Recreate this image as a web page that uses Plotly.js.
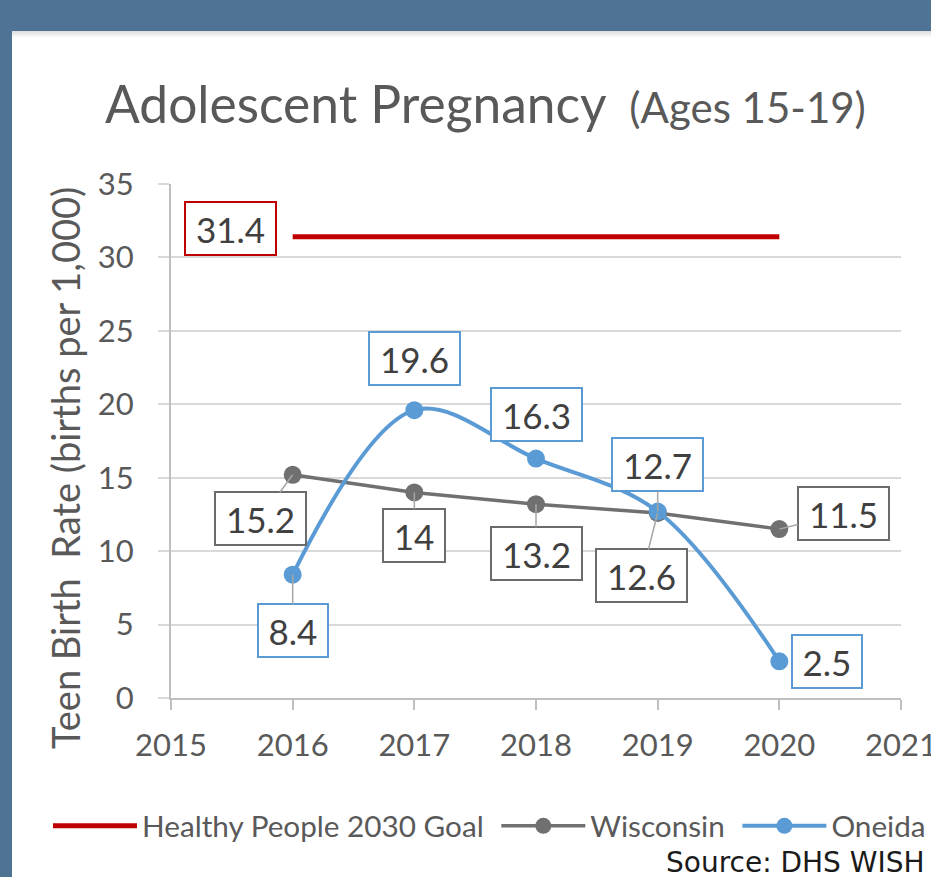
<!DOCTYPE html>
<html><head><meta charset="utf-8">
<script src="https://cdn.plot.ly/plotly-3.0.1.min.js"></script>
<style>
html,body{margin:0;padding:0;width:931px;height:877px;overflow:hidden;background:#4E7394;}
#wrap{position:absolute;left:12px;top:31px;width:919px;height:846px;background:#fff;}
#shade{position:absolute;left:0;top:0;width:919px;height:7px;background:linear-gradient(#dcdcdc,#fff);}
#chart{position:absolute;left:0;top:0;width:919px;height:846px;}
</style></head><body>
<div id="wrap"><div id="shade"></div><div id="chart"></div></div>
<script>
const years = [2016, 2017, 2018, 2019, 2020];
const goalYears = [2016, 2020];
const goalValues = [31.4, 31.4];
const wisconsin = [15.2, 14, 13.2, 12.6, 11.5];
const oneida = [8.4, 19.6, 16.3, 12.7, 2.5];
const xTicks = [2015, 2016, 2017, 2018, 2019, 2020, 2021];
const yTicks = [0, 5, 10, 15, 20, 25, 30, 35];
const seriesNames = ['Healthy People 2030 Goal', 'Wisconsin', 'Oneida'];

const RED = '#C00000', GRAY = '#707070', BLUE = '#5B9BD5';
const FONT = 'Lato';
const LABEL_SIZE = 35;

// label offsets (pixels) and leader-line flags
const wiOff = [[-32, 44], [0, 43], [0, 49], [-16, 63], [64, -16]];
const wiLead = [true, true, true, true, true];
const onOff = [[0, 56], [0, -52], [0, -44], [0, -47], [48, 0]];
const onLead = [true, false, false, true, false];
const goalOff = [-62, -8];

function boxWidth(s) {
  let w = 0;
  for (const ch of s) w += (ch === '.') ? 0.25 * LABEL_SIZE : 0.58 * LABEL_SIZE;
  return Math.round(w + 19);
}

function lab(x, y, v, off, color, lead) {
  const s = String(v);
  return {
    x: x, y: y, xref: 'x', yref: 'y', text: s,
    showarrow: true, ax: off[0], ay: off[1], axref: 'pixel', ayref: 'pixel',
    arrowhead: 0, arrowwidth: 1.5, standoff: 0,
    arrowcolor: lead ? '#a6a6a6' : 'rgba(0,0,0,0)',
    font: {family: FONT, size: LABEL_SIZE, color: '#404040'},
    width: boxWidth(s), height: 51, align: 'center', valign: 'middle',
    bordercolor: color, borderwidth: 2, borderpad: 0, bgcolor: '#ffffff'
  };
}

const annotations = [];
annotations.push(lab(goalYears[0], goalValues[0], goalValues[0], goalOff, RED, false));
years.forEach((yr, i) => annotations.push(lab(yr, wisconsin[i], wisconsin[i], wiOff[i], '#6b6b6b', wiLead[i])));
years.forEach((yr, i) => annotations.push(lab(yr, oneida[i], oneida[i], onOff[i], BLUE, onLead[i])));
annotations.push({
  xref: 'paper', yref: 'paper', x: (53 - 159) / 730, y: 1 - (437 - 153) / 514,
  xanchor: 'center', yanchor: 'middle', textangle: -90,
  text: 'Teen Birth  Rate (births per 1,000)', showarrow: false,
  font: {family: FONT, size: 38, color: '#595959'}
});
annotations.push({
  xref: 'paper', yref: 'paper', x: (915 - 159) / 730, y: -(831 - 667) / 514,
  xanchor: 'right', yanchor: 'middle',
  text: 'Source: DHS WISH', showarrow: false,
  font: {family: 'DejaVu Sans', size: 28, color: '#1a1a1a'}
});

// trailing non-breaking space widens the gap between legend entries
const legendGap = '\u00a0';
const traces = [
  {x: goalYears, y: goalValues, name: seriesNames[0] + legendGap, mode: 'lines',
   line: {color: RED, width: 5}, hoverinfo: 'skip'},
  {x: years, y: wisconsin, name: seriesNames[1] + legendGap, mode: 'lines+markers',
   line: {color: GRAY, width: 3.5}, marker: {color: GRAY, size: 18}},
  {x: years, y: oneida, name: seriesNames[2], mode: 'lines+markers',
   line: {color: BLUE, width: 4, shape: 'spline', smoothing: 1}, marker: {color: BLUE, size: 18}}
];

const layout = {
  width: 919, height: 846,
  paper_bgcolor: 'rgba(0,0,0,0)', plot_bgcolor: 'rgba(0,0,0,0)',
  margin: {l: 159, r: 30, t: 153, b: 179},
  font: {family: FONT, color: '#595959'},
  title: {
    text: 'Adolescent Pregnancy <span style="font-size:42px">&nbsp;(Ages 15-19)</span>',
    font: {family: FONT, size: 51.5, color: '#595959'},
    xref: 'container', yref: 'container', x: 93 / 919, xanchor: 'left',
    y: 1 - 74 / 846, yanchor: 'middle'
  },
  xaxis: {
    range: [2015, 2021], tickvals: xTicks, ticktext: xTicks.map(String),
    showgrid: false, zeroline: false, showline: true, linecolor: '#bfbfbf', linewidth: 2,
    ticks: 'outside', ticklen: 10, tickwidth: 2, tickcolor: '#bfbfbf',
    tickfont: {family: FONT, size: 31, color: '#595959'}, ticklabelstandoff: 9,
    ticklabeloverflow: 'allow'
  },
  yaxis: {
    range: [0, 35], tickvals: yTicks, ticktext: yTicks.map(String),
    showgrid: true, gridcolor: '#d9d9d9', gridwidth: 2, zeroline: false,
    showline: true, linecolor: '#bfbfbf', linewidth: 2,
    ticks: 'outside', ticklen: 11, tickwidth: 2, tickcolor: '#d9d9d9',
    tickfont: {family: FONT, size: 31, color: '#595959'}, ticklabelstandoff: 18
  },
  legend: {
    orientation: 'h', xref: 'paper', yref: 'paper',
    x: (44 - 159) / 730, xanchor: 'left', y: -(795 - 667) / 514, yanchor: 'middle',
    font: {family: FONT, size: 29.7, color: '#595959'}, itemwidth: 84,
    bgcolor: 'rgba(0,0,0,0)', traceorder: 'normal'
  },
  showlegend: true,
  annotations: annotations
};

Plotly.newPlot('chart', traces, layout, {displayModeBar: false, staticPlot: true});
</script>
</body></html>
